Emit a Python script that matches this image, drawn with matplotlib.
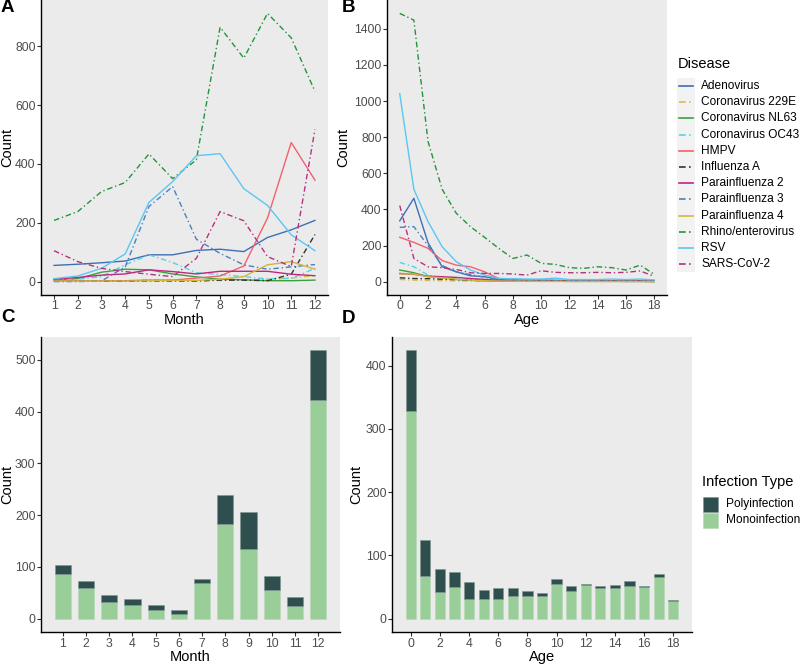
import numpy as np
import matplotlib.pyplot as plt
from matplotlib.lines import Line2D
from matplotlib.patches import Rectangle

plt.rcParams['font.family'] = ['Liberation Sans', 'DejaVu Sans']

# data
months = np.arange(1, 13)
ages = np.arange(0, 19)

diseases = ['Adenovirus', 'Coronavirus 229E', 'Coronavirus NL63', 'Coronavirus OC43',
            'HMPV', 'Influenza A', 'Parainfluenza 2', 'Parainfluenza 3',
            'Parainfluenza 4', 'Rhino/enterovirus', 'RSV', 'SARS-CoV-2']

by_month = {
    'Adenovirus':        [55, 59, 64, 70, 91, 91, 106, 110, 102, 150, 176, 208],
    'Coronavirus 229E':  [1, 1, 2, 2, 6, 5, 3, 4, 5, 8, 12, 20],
    'Coronavirus NL63':  [5, 10, 32, 42, 40, 26, 16, 8, 6, 3, 3, 5],
    'Coronavirus OC43':  [6, 8, 17, 57, 91, 65, 30, 24, 17, 9, 11, 45],
    'HMPV':              [3, 3, 3, 3, 5, 5, 12, 19, 53, 216, 473, 345],
    'Influenza A':       [1, 1, 1, 1, 2, 2, 2, 5, 5, 3, 25, 160],
    'Parainfluenza 2':   [8, 14, 22, 26, 40, 34, 26, 35, 35, 35, 25, 20],
    'Parainfluenza 3':   [0, 0, 2, 50, 255, 323, 144, 96, 57, 42, 50, 58],
    'Parainfluenza 4':   [2, 2, 2, 2, 3, 4, 4, 8, 17, 57, 68, 42],
    'Rhino/enterovirus': [208, 238, 306, 337, 434, 350, 414, 865, 760, 912, 829, 647],
    'RSV':               [10, 19, 45, 94, 269, 340, 428, 435, 316, 259, 159, 105],
    'SARS-CoV-2':        [105, 68, 45, 34, 25, 17, 79, 238, 207, 85, 51, 517],
}

by_age = {
    'Adenovirus':        [337, 462, 216, 83, 55, 33, 28, 13, 10, 9, 8, 8, 7, 7, 6, 6, 6, 6, 5],
    'Coronavirus 229E':  [13, 9, 7, 6, 5, 4, 3, 3, 2, 2, 2, 2, 2, 2, 2, 2, 2, 2, 1],
    'Coronavirus NL63':  [65, 50, 28, 22, 13, 8, 5, 4, 3, 3, 3, 3, 2, 2, 2, 2, 2, 2, 1],
    'Coronavirus OC43':  [107, 83, 37, 22, 13, 8, 6, 5, 4, 4, 4, 4, 3, 3, 3, 3, 3, 3, 2],
    'HMPV':              [246, 218, 185, 117, 92, 83, 55, 18, 12, 10, 8, 6, 5, 5, 4, 4, 4, 4, 3],
    'Influenza A':       [22, 18, 17, 14, 12, 10, 9, 8, 7, 7, 7, 6, 6, 6, 6, 6, 5, 5, 4],
    'Parainfluenza 2':   [46, 41, 31, 28, 24, 18, 13, 6, 5, 4, 4, 3, 3, 3, 3, 3, 2, 2, 2],
    'Parainfluenza 3':   [301, 305, 200, 90, 55, 40, 25, 10, 8, 7, 6, 6, 5, 5, 5, 5, 4, 4, 3],
    'Parainfluenza 4':   [43, 43, 28, 22, 14, 9, 6, 4, 3, 3, 2, 2, 2, 2, 2, 2, 2, 2, 1],
    'Rhino/enterovirus': [1485, 1448, 777, 512, 379, 305, 246, 185, 129, 148, 102, 96, 78, 74, 83, 78, 65, 92, 41],
    'RSV':               [1041, 512, 333, 194, 111, 65, 37, 18, 17, 15, 15, 20, 12, 12, 12, 15, 12, 15, 10],
    'SARS-CoV-2':        [422, 129, 83, 78, 68, 50, 46, 46, 43, 37, 61, 52, 50, 50, 52, 50, 52, 60, 30],
}

month_total = [104, 73, 46, 37, 26, 17, 76, 238, 205, 83, 41, 518]
month_mono = [86, 59, 33, 26, 17, 8, 68, 182, 135, 56, 24, 423]
age_total = [424, 125, 78, 73, 58, 45, 48, 49, 44, 40, 62, 52, 55, 51, 53, 59, 52, 71, 30]
age_mono = [328, 67, 42, 50, 31, 31, 31, 35, 35, 35, 54, 43, 53, 48, 48, 51, 50, 66, 28]

# styles
dd = (0, (4, 2, 1, 2))
colors = {
    'Adenovirus': '#3F6FB5', 'Coronavirus 229E': '#D8BC4C', 'Coronavirus NL63': '#38A23A',
    'Coronavirus OC43': '#52D2F0', 'HMPV': '#F5606E', 'Influenza A': '#333333',
    'Parainfluenza 2': '#C0277E', 'Parainfluenza 3': '#4C7FC0', 'Parainfluenza 4': '#D3B540',
    'Rhino/enterovirus': '#23943A', 'RSV': '#5BC6F2', 'SARS-CoV-2': '#B3337F',
}
styles = {
    'Adenovirus': '-', 'Coronavirus 229E': dd, 'Coronavirus NL63': '-',
    'Coronavirus OC43': dd, 'HMPV': '-', 'Influenza A': dd,
    'Parainfluenza 2': '-', 'Parainfluenza 3': dd, 'Parainfluenza 4': '-',
    'Rhino/enterovirus': dd, 'RSV': '-', 'SARS-CoV-2': dd,
}
poly_col = '#2E4F4D'
mono_col = '#99CE99'
panel_bg = '#EBEBEB'
tick_col = '#4D4D4D'
W, H = 800, 665


def fx(px):
    return px / W


def fy(py):
    return 1 - py / H


def style_ax(ax, ylab_x):
    ax.set_facecolor(panel_bg)
    for s in ['top', 'right']:
        ax.spines[s].set_visible(False)
    for s in ['left', 'bottom']:
        ax.spines[s].set_linewidth(1.0)
        ax.spines[s].set_color('black')
    ax.tick_params(colors='#333333', labelcolor=tick_col, labelsize=8.8, length=2.75,
                   width=0.8, pad=1.2)
    ax.set_ylabel('Count', fontsize=10.5)
    ax.yaxis.set_label_coords(ylab_x, 0.5)


def expand(lo, hi, frac=0.05):
    r = hi - lo
    return lo - frac * r, hi + frac * r


fig = plt.figure(figsize=(8, 6.65), dpi=100)
axA = fig.add_axes([0.05125, 0.5564, 0.35875, 0.4436])
axB = fig.add_axes([0.48375, 0.5564, 0.35, 0.4436])
axC = fig.add_axes([0.05125, 0.0496, 0.37375, 0.4436])
axD = fig.add_axes([0.49, 0.0496, 0.375, 0.4436])

# A: by month
for d in diseases:
    axA.plot(months, by_month[d], color=colors[d], linestyle=styles[d], lw=1.0)
style_ax(axA, -0.092)
axA.set_xticks(months)
axA.set_xlim(expand(1, 12))
allm = np.concatenate([by_month[d] for d in diseases])
axA.set_ylim(expand(allm.min(), allm.max()))
axA.set_yticks([0, 200, 400, 600, 800])
axA.set_xlabel('Month', fontsize=10.5, labelpad=0.5)

# B: by age
for d in diseases:
    axB.plot(ages, by_age[d], color=colors[d], linestyle=styles[d], lw=1.0)
style_ax(axB, -0.132)
axB.set_xticks(np.arange(0, 19, 2))
axB.set_xlim(expand(0, 18))
alla = np.concatenate([by_age[d] for d in diseases])
axB.set_ylim(expand(alla.min(), alla.max()))
axB.set_yticks(np.arange(0, 1401, 200))
axB.set_xlabel('Age', fontsize=10.5, labelpad=0.5)

# C: infection type by month
m_poly = np.array(month_total) - np.array(month_mono)
axC.bar(months, month_mono, width=0.7, color=mono_col, edgecolor='#B5D9B5', lw=0.4)
axC.bar(months, m_poly, bottom=month_mono, width=0.7, color=poly_col, edgecolor='#7E9590', lw=0.4)
style_ax(axC, -0.088)
axC.set_xticks(months)
axC.set_xlim(expand(0.65, 12.35))
axC.set_ylim(expand(0, max(month_total)))
axC.set_yticks(np.arange(0, 501, 100))
axC.set_xlabel('Month', fontsize=10.5, labelpad=0.5)

# D: infection type by age
a_poly = np.array(age_total) - np.array(age_mono)
axD.bar(ages, age_mono, width=0.7, color=mono_col, edgecolor='#B5D9B5', lw=0.4)
axD.bar(ages, a_poly, bottom=age_mono, width=0.7, color=poly_col, edgecolor='#7E9590', lw=0.4)
style_ax(axD, -0.097)
axD.set_xticks(np.arange(0, 19, 2))
axD.set_xlim(expand(-0.35, 18.35))
axD.set_ylim(expand(0, max(age_total)))
axD.set_yticks(np.arange(0, 401, 100))
axD.set_xlabel('Age', fontsize=10.5, labelpad=0.5)

# panel letters
for lab, x, y in [('A', 1, -1), ('B', 342, -1), ('C', 1, 309), ('D', 342, 310)]:
    fig.text(fx(x), fy(y), lab, fontsize=13.5, fontweight='bold', va='top', ha='left')

# Disease legend
fig.text(fx(678), fy(64), 'Disease', fontsize=10.5, va='center', ha='left')
step = 16.2
fig.patches.append(Rectangle((fx(677), fy(78 + step * len(diseases))), fx(18), step * len(diseases) / H,
                             transform=fig.transFigure, facecolor='#F2F2F2', edgecolor='none', zorder=0))
for i, d in enumerate(diseases):
    yc = 86 + i * step
    fig.add_artist(Line2D([fx(679), fx(693)], [fy(yc), fy(yc)], color=colors[d],
                          linestyle=styles[d], lw=1.2, transform=fig.transFigure))
    fig.text(fx(701), fy(yc), d, fontsize=8.6, va='center', ha='left')

# Infection type legend
fig.text(fx(702), fy(482), 'Infection Type', fontsize=10.5, va='center', ha='left')
for i, (lab, col, ec) in enumerate([('Polyinfection', poly_col, '#7E9590'),
                                    ('Monoinfection', mono_col, '#B5D9B5')]):
    top = 497 + i * 15.5
    fig.patches.append(Rectangle((fx(702.5), fy(top + 15)), fx(15), 15 / H, transform=fig.transFigure,
                                 facecolor=col, edgecolor=ec, lw=0.4))
    fig.text(fx(726), fy(top + 7.5), lab, fontsize=8.6, va='center', ha='left')

fig.savefig('out.png', dpi=100)
